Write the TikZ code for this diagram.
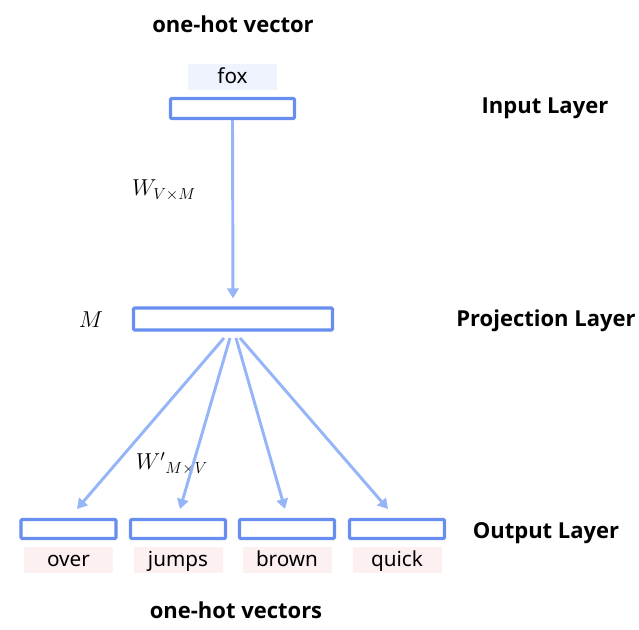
\documentclass[tikz,border=0pt]{standalone}
\usepackage{fontspec}
\setmainfont{Noto Sans}
\newfontfamily\titlefont{Open Sans}[BoldFont={* Bold}]
\usetikzlibrary{arrows.meta}
\definecolor{boxblue}{RGB}{104,142,240}
\definecolor{arrblue}{RGB}{150,180,248}
\definecolor{foxfill}{RGB}{238,243,253}
\definecolor{pinkfill}{RGB}{253,240,240}
\tikzset{
  vecbox/.style={draw=boxblue, line width=2.4pt, fill=white, rectangle, inner sep=0pt, rounded corners=0.8pt},
  tagbox/.style={rectangle, inner sep=0pt, minimum width=66.75pt, minimum height=19.5pt,
     font=\fontsize{15.5}{18}\selectfont, text height=12pt, text depth=2pt},
  title/.style={font=\titlefont\fontsize{16.5}{20}\selectfont\bfseries, anchor=base, inner sep=0pt},
  mathlbl/.style={font=\fontsize{18}{21}\selectfont, anchor=base, inner sep=0pt},
  arr/.style={draw=arrblue, line width=2.2pt, -{Triangle[length=7.5pt,width=8.5pt]}},
}
\begin{document}
\begin{tikzpicture}[x=0.75pt,y=-0.75pt]
\useasboundingbox (0,0) rectangle (639,630);

% titles
\node[title] (t1) at (233,33) {one-hot vector};
\node[title] (t2) at (236,618) {one-hot vectors};
\node[title] (l1) at (545,114) {Input Layer};
\node[title] (l2) at (546,327) {Projection Layer};
\node[title] (l3) at (546,538) {Output Layer};

% input
\node[tagbox, fill=foxfill] (fox) at (232.5,77) {fox};
\node[vecbox, minimum width=93pt, minimum height=15pt] (in) at (232.5,108.5) {};

% projection
\node[vecbox, minimum width=149.25pt, minimum height=16.5pt] (proj) at (233,319) {};
\node[mathlbl] (mlbl) at (91,328) {$M$};
\node[mathlbl] (w1) at (164,196) {$W_{V\times M}$};

% outputs
\foreach \i/\x/\w in {1/68.5/over, 2/178/jumps, 3/287/brown, 4/397/quick}{
  \node[vecbox, minimum width=71.25pt, minimum height=14.25pt] (o\i) at (\x,529) {};
  \node[tagbox, fill=pinkfill] (w\i t) at (\x,560) {\w};
}
\node[mathlbl] (w2) at (172,470) {${W'}_{M\times V}$};

% arrows
\draw[arr, shorten >=6pt] (in.south) -- (proj.north);

\coordinate (s1) at (224,338);
\coordinate (s2) at (230,338);
\coordinate (s3) at (236,338);
\coordinate (s4) at (240,338);
\coordinate (e1) at (77,509);
\coordinate (e2) at (180,509);
\coordinate (e3) at (285,509);
\coordinate (e4) at (388,509);
\draw[arr] (s1) -- (e1);
\draw[arr] (s2) -- (e2);
\draw[arr] (s3) -- (e3);
\draw[arr] (s4) -- (e4);
\end{tikzpicture}
\end{document}
